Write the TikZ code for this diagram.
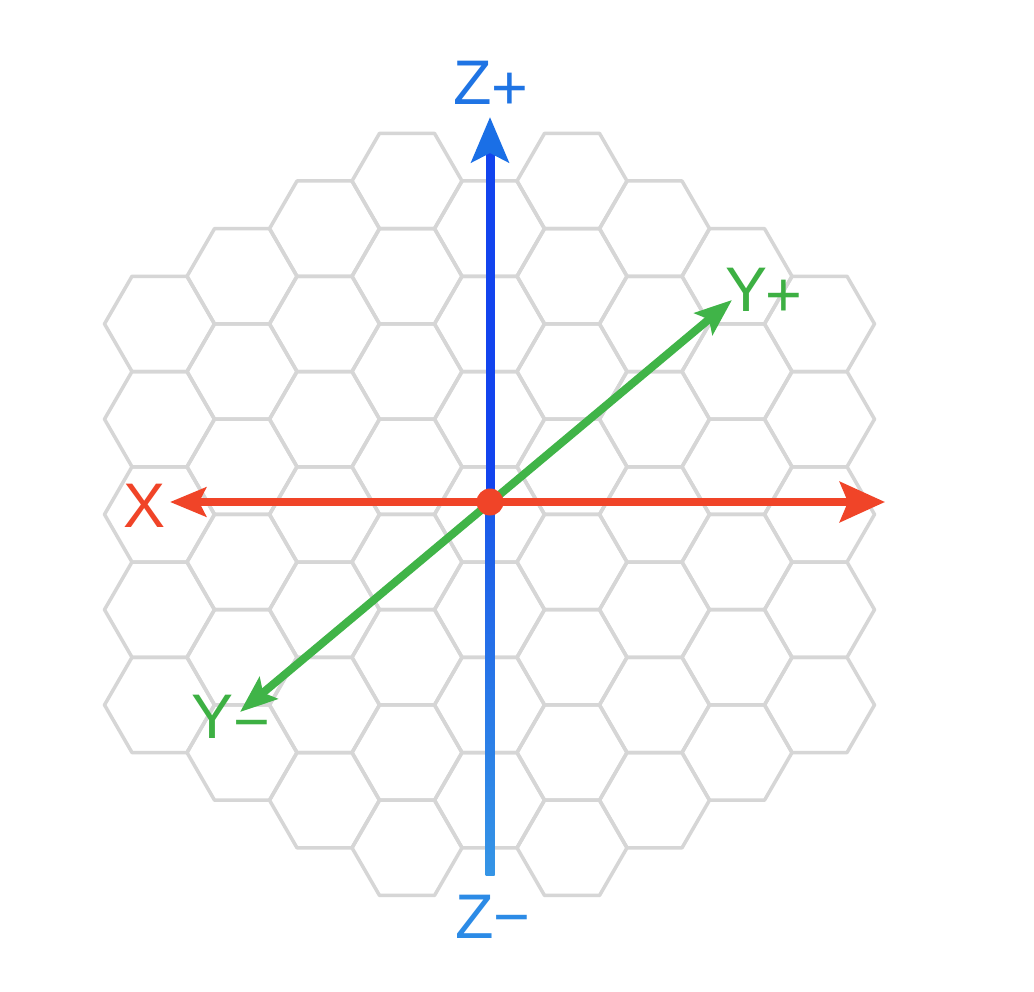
\documentclass[tikz,border=0pt]{standalone}
\usepackage{fontspec}
\setmainfont{Liberation Sans}
\usetikzlibrary{arrows.meta}
\definecolor{hexgray}{HTML}{D6D6D6}
\definecolor{xred}{HTML}{F04428}
\definecolor{ygreen}{HTML}{40B448}
\definecolor{ytext}{HTML}{3DB043}
\definecolor{zdark}{HTML}{1244EE}
\definecolor{zmid}{HTML}{1A58EA}
\definecolor{zlight}{HTML}{3595E6}
\definecolor{zhead}{HTML}{1A6FE6}
\definecolor{zplus}{HTML}{1F74E4}
\definecolor{zminus}{HTML}{2C8BE6}
\begin{document}
\begin{tikzpicture}[x=1pt,y=-1pt,
  hexline/.style={draw=hexgray, line width=3.5pt, line join=round},
  axislbl/.style={font=\fontsize{63}{70}\selectfont, inner sep=0pt, anchor=base}]
\path[use as bounding box, fill=white] (0,0) rectangle (1034,992);
% hexagon grid
\foreach \k/\nmin/\cnt in {-4/3/5,-3/2/6,-2/1/7,-1/0/8,0/1/7,1/0/8,2/1/7,3/2/6,4/3/5}{
  \foreach \j in {1,...,\cnt}{
    \pgfmathsetmacro\cx{489.5+82.5*\k}
    \pgfmathsetmacro\cy{181+47.63*(\nmin+2*\j-2)}
    \draw[hexline] (\cx+55,\cy) -- (\cx+27.5,\cy+47.63) -- (\cx-27.5,\cy+47.63)
      -- (\cx-55,\cy) -- (\cx-27.5,\cy-47.63) -- (\cx+27.5,\cy-47.63) -- cycle;
  }
}
% axes
\coordinate (O) at (490,502);
\coordinate (ztop) at (490,117);
\coordinate (zbot) at (490,875);
\coordinate (xl) at (170,502);
\coordinate (xr) at (885,502);
\coordinate (yp) at (732,300);
\coordinate (ym) at (240,712);
\shade[top color=zmid, bottom color=zlight] ([xshift=-4.5pt]O) rectangle ([xshift=4.5pt]zbot);
\draw[line width=9pt, zdark, -{Stealth[length=45pt,width=37pt,inset=9pt,color=zhead]}] (O) -- (ztop);
\draw[line width=8pt, xred, {Stealth[length=36pt,width=29pt,inset=7pt]}-{Stealth[length=45pt,width=40pt,inset=8pt]}] (xl) -- (xr);
\draw[line width=8pt, ygreen, {Stealth[length=37pt,width=28pt,inset=7pt]}-{Stealth[length=37pt,width=28pt,inset=7pt]}] (ym) -- (yp);
\node[circle, fill=xred, minimum size=27pt, inner sep=0pt] (dot) at (O) {};
% labels
\node[axislbl, text=zplus] (lzp) at (491,105) {Z\raisebox{-5pt}{+}};
\node[axislbl, text=zminus] (lzm) at (493,938) {Z−};
\node[axislbl, text=xred] (lx) at (145,527) {X};
\node[axislbl, text=ytext] (lym) at (231,738) {Y\raisebox{-5pt}{−}};
\node[axislbl, text=ytext] (lyp) at (764,312) {Y\kern-2pt\raisebox{-5pt}{+}};
\end{tikzpicture}
\end{document}
